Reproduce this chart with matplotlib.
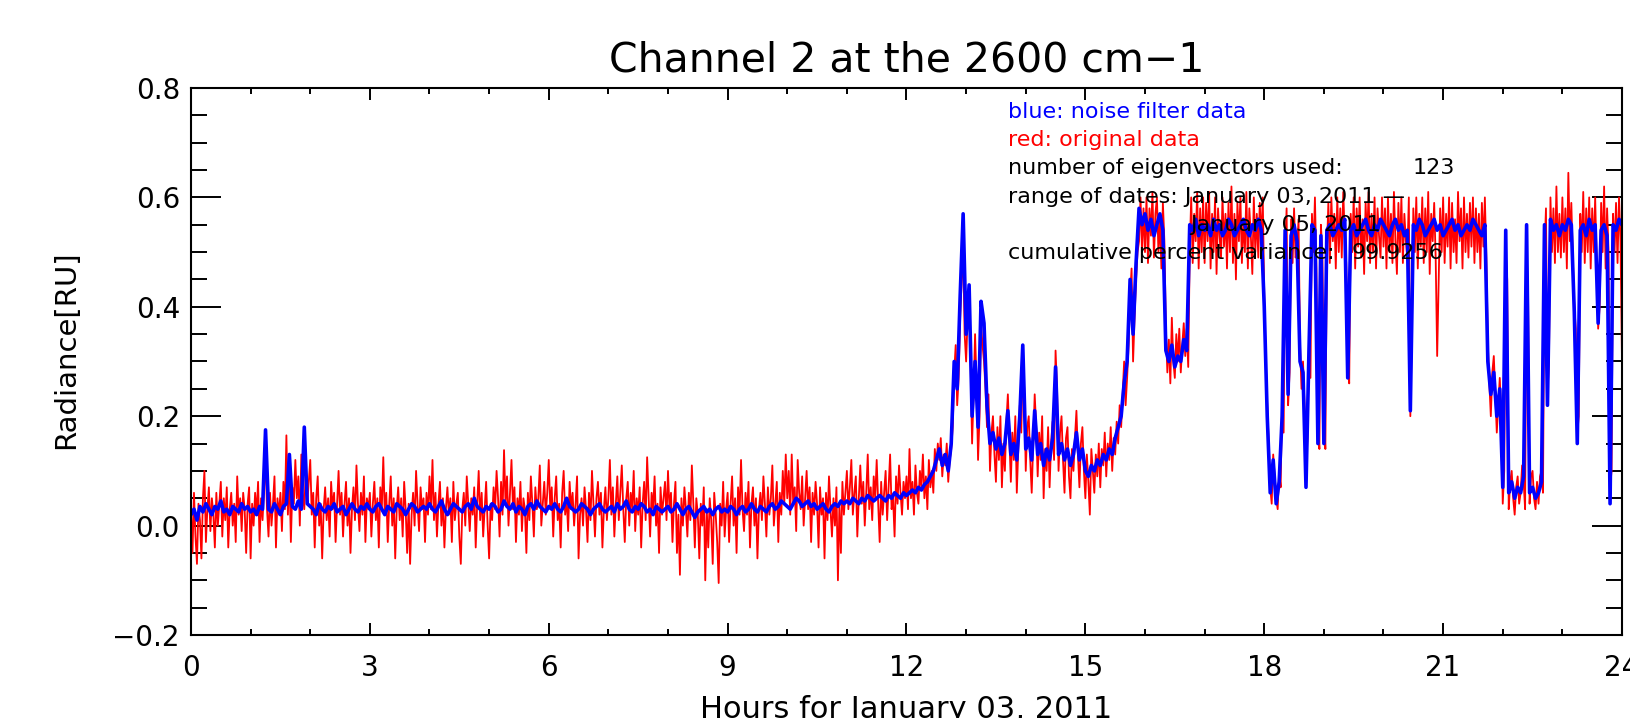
import numpy as np
import matplotlib
matplotlib.use("Agg")
import matplotlib.pyplot as plt
from matplotlib.ticker import MultipleLocator

# filtered radiance (blue), one sample every 0.05 hr, 20 per row = 1 hr
blue = [
    0.02, 0.03, 0.01, 0.035, 0.025, 0.04, 0.03, 0.02, 0.035, 0.03, 0.045, 0.025, 0.03, 0.02, 0.035, 0.03, 0.025, 0.04, 0.03, 0.035,
    0.025, 0.03, 0.02, 0.035, 0.03, 0.175, 0.03, 0.025, 0.04, 0.03, 0.02, 0.035, 0.04, 0.13, 0.035, 0.03, 0.045, 0.03, 0.18, 0.04,
    0.035, 0.03, 0.02, 0.04, 0.03, 0.025, 0.035, 0.03, 0.04, 0.025, 0.03, 0.035, 0.02, 0.03, 0.04, 0.03, 0.025, 0.035, 0.03, 0.04,
    0.03, 0.025, 0.035, 0.04, 0.03, 0.02, 0.035, 0.03, 0.025, 0.04, 0.035, 0.03, 0.02, 0.03, 0.04, 0.035, 0.025, 0.03, 0.035, 0.03,
    0.04, 0.03, 0.025, 0.035, 0.045, 0.03, 0.02, 0.03, 0.04, 0.035, 0.03, 0.025, 0.035, 0.04, 0.03, 0.05, 0.035, 0.03, 0.025, 0.035,
    0.03, 0.04, 0.035, 0.025, 0.03, 0.045, 0.035, 0.03, 0.04, 0.025, 0.035, 0.03, 0.02, 0.035, 0.04, 0.03, 0.045, 0.035, 0.03, 0.025,
    0.035, 0.03, 0.04, 0.03, 0.025, 0.035, 0.05, 0.035, 0.03, 0.025, 0.03, 0.04, 0.035, 0.03, 0.02, 0.03, 0.035, 0.04, 0.03, 0.025,
    0.03, 0.035, 0.025, 0.04, 0.03, 0.035, 0.045, 0.03, 0.025, 0.035, 0.03, 0.04, 0.035, 0.025, 0.03, 0.02, 0.035, 0.03, 0.025, 0.03,
    0.035, 0.025, 0.03, 0.04, 0.03, 0.02, 0.03, 0.035, 0.025, 0.015, 0.025, 0.03, 0.035, 0.025, 0.03, 0.02, 0.03, 0.035, 0.025, 0.03,
    0.025, 0.035, 0.03, 0.02, 0.03, 0.035, 0.025, 0.03, 0.04, 0.03, 0.025, 0.035, 0.03, 0.025, 0.035, 0.04, 0.03, 0.035, 0.045, 0.04,
    0.035, 0.03, 0.04, 0.05, 0.045, 0.035, 0.04, 0.045, 0.035, 0.04, 0.03, 0.035, 0.04, 0.03, 0.025, 0.035, 0.04, 0.035, 0.045, 0.04,
    0.045, 0.04, 0.05, 0.045, 0.04, 0.05, 0.045, 0.055, 0.05, 0.045, 0.05, 0.055, 0.05, 0.045, 0.055, 0.05, 0.06, 0.055, 0.05, 0.06,
    0.055, 0.06, 0.065, 0.06, 0.07, 0.065, 0.075, 0.08, 0.09, 0.1, 0.12, 0.14, 0.11, 0.13, 0.1, 0.15, 0.3, 0.25, 0.42, 0.57,
    0.35, 0.44, 0.2, 0.3, 0.18, 0.41, 0.37, 0.22, 0.15, 0.17, 0.14, 0.16, 0.13, 0.15, 0.21, 0.13, 0.15, 0.12, 0.2, 0.33,
    0.14, 0.16, 0.12, 0.21, 0.13, 0.15, 0.11, 0.14, 0.12, 0.16, 0.29, 0.13, 0.15, 0.12, 0.14, 0.11, 0.13, 0.17, 0.12, 0.14,
    0.1, 0.09, 0.11, 0.1, 0.12, 0.11, 0.13, 0.12, 0.14, 0.13, 0.16, 0.18, 0.2, 0.26, 0.3, 0.45, 0.35, 0.48, 0.58, 0.55,
    0.57, 0.54, 0.56, 0.53, 0.55, 0.57, 0.54, 0.32, 0.3, 0.33, 0.29, 0.31, 0.3, 0.34, 0.32, 0.55, 0.54, 0.56, 0.53, 0.55,
    0.54, 0.55, 0.53, 0.56, 0.54, 0.55, 0.53, 0.54, 0.56, 0.55, 0.53, 0.54, 0.55, 0.56, 0.54, 0.53, 0.55, 0.54, 0.56, 0.54,
    0.4, 0.2, 0.06, 0.12, 0.04, 0.08, 0.2, 0.54, 0.24, 0.53, 0.55, 0.52, 0.3, 0.28, 0.07, 0.32, 0.55, 0.54, 0.15, 0.53,
    0.15, 0.54, 0.55, 0.53, 0.54, 0.55, 0.54, 0.56, 0.27, 0.54, 0.55, 0.53, 0.54, 0.55, 0.56, 0.54, 0.53, 0.55, 0.54, 0.56,
    0.55, 0.54, 0.53, 0.55, 0.56, 0.54, 0.55, 0.53, 0.54, 0.21, 0.55, 0.54, 0.56, 0.55, 0.53, 0.54, 0.55, 0.56, 0.54, 0.55,
    0.53, 0.54, 0.55, 0.56, 0.54, 0.55, 0.53, 0.54, 0.55, 0.54, 0.56, 0.55, 0.54, 0.53, 0.55, 0.3, 0.24, 0.28, 0.2, 0.25,
    0.07, 0.54, 0.06, 0.08, 0.05, 0.07, 0.06, 0.09, 0.55, 0.06, 0.07, 0.05, 0.06, 0.08, 0.55, 0.22, 0.56, 0.54, 0.55, 0.53,
    0.55, 0.54, 0.56, 0.55, 0.39, 0.15, 0.54, 0.55, 0.53, 0.56, 0.54, 0.55, 0.37, 0.54, 0.55, 0.53, 0.04, 0.55, 0.54, 0.56,
    0.55,
]

# original radiance (red), one sample every 0.025 hr, 20 per row = half an hour
red = [
    0.03, -0.05, 0.06, -0.02, -0.07, 0.04, 0.01, -0.06, 0.05, 0.1, -0.03, 0.03, 0.07, -0.01, 0.05, 0.02, -0.04, 0.06, 0.0, 0.04,
    0.08, -0.02, 0.05, 0.01, 0.07, -0.04, 0.03, 0.06, 0.0, 0.04, -0.03, 0.09, 0.02, 0.05, -0.01, 0.06, 0.03, -0.05, 0.04, 0.07,
    -0.06, 0.04, 0.0, 0.06, 0.02, 0.08, -0.03, 0.05, 0.01, 0.07, 0.12, 0.03, -0.02, 0.06, 0.0, 0.04, 0.09, -0.04, 0.05, 0.02,
    0.06, -0.01, 0.08, 0.03, 0.165, 0.02, 0.1, -0.03, 0.07, 0.04, 0.12, 0.05, 0.09, 0.0, 0.13, 0.06, 0.03, 0.1, 0.04, 0.08,
    0.12, 0.02, 0.06, -0.04, 0.05, 0.09, 0.0, 0.04, -0.06, 0.03, 0.07, 0.01, 0.05, -0.02, 0.08, 0.03, 0.06, -0.03, 0.04, 0.1,
    0.02, 0.06, -0.02, 0.04, 0.08, 0.0, 0.05, -0.05, 0.03, 0.07, 0.01, 0.11, 0.04, -0.01, 0.06, 0.02, 0.09, -0.03, 0.05, 0.03,
    0.06, -0.02, 0.04, 0.08, 0.01, 0.05, -0.04, 0.07, 0.03, 0.125, 0.02, 0.06, -0.03, 0.04, 0.09, 0.0, 0.05, -0.06, 0.03, 0.07,
    0.01, 0.05, -0.02, 0.08, 0.03, -0.05, 0.04, -0.07, 0.02, 0.06, 0.0, 0.1, 0.04, -0.01, 0.07, 0.03, 0.05, -0.03, 0.06, 0.02,
    0.09, 0.03, 0.12, 0.01, 0.06, -0.02, 0.04, 0.08, 0.0, 0.05, -0.04, 0.03, 0.07, 0.02, 0.05, -0.03, 0.08, 0.01, 0.04, 0.06,
    -0.02, -0.07, 0.03, 0.06, 0.0, 0.09, 0.04, -0.01, 0.05, 0.02, 0.07, -0.04, 0.04, 0.1, 0.01, 0.06, -0.02, 0.03, 0.08, 0.0,
    -0.06, 0.04, 0.01, 0.07, 0.03, 0.1, 0.05, -0.02, 0.08, 0.02, 0.138, 0.04, 0.09, 0.0, 0.06, 0.12, 0.03, 0.07, -0.03, 0.05,
    0.02, 0.08, -0.01, 0.05, 0.03, -0.05, 0.06, 0.01, 0.09, 0.04, -0.02, 0.07, 0.03, 0.05, 0.11, 0.0, 0.04, 0.08, 0.02, 0.06,
    0.12, 0.03, 0.07, -0.02, 0.05, 0.09, 0.01, 0.04, -0.04, 0.06, 0.1, 0.02, 0.05, -0.01, 0.08, 0.03, 0.06, 0.0, 0.04, 0.09,
    -0.06, 0.02, 0.05, 0.0, 0.07, 0.03, -0.03, 0.06, 0.01, 0.1, 0.04, -0.02, 0.05, 0.08, 0.02, 0.06, -0.04, 0.03, 0.07, 0.01,
    0.05, 0.12, 0.02, 0.07, -0.02, 0.04, 0.09, 0.01, 0.06, 0.11, 0.03, -0.03, 0.05, 0.08, 0.0, 0.06, 0.03, 0.1, -0.01, 0.05,
    0.02, 0.07, -0.04, 0.04, 0.08, 0.01, 0.125, 0.05, -0.02, 0.06, 0.03, 0.09, 0.0, 0.04, -0.05, 0.07, 0.02, 0.05, 0.08, 0.01,
    0.1, 0.03, 0.06, -0.03, 0.04, 0.08, -0.05, 0.02, -0.09, 0.05, 0.0, 0.07, 0.03, -0.02, 0.06, 0.01, 0.11, 0.04, -0.04, 0.05,
    0.02, -0.06, 0.04, 0.0, 0.07, -0.1, 0.03, -0.04, 0.05, 0.01, -0.07, 0.06, 0.02, -0.03, -0.105, 0.04, 0.0, 0.08, -0.02, 0.03,
    0.06, -0.03, 0.04, 0.09, 0.0, 0.05, -0.05, 0.07, 0.02, 0.12, 0.03, -0.01, 0.06, 0.02, 0.08, -0.04, 0.04, 0.07, 0.0, 0.05,
    -0.06, 0.03, 0.06, 0.01, 0.09, 0.04, -0.02, 0.07, 0.02, 0.05, 0.11, 0.0, 0.04, 0.08, -0.03, 0.06, 0.02, 0.1, 0.04, 0.13,
    0.05, 0.1, 0.02, 0.13, 0.04, 0.07, -0.01, 0.12, 0.06, 0.03, 0.09, 0.0, 0.05, 0.1, 0.03, 0.07, -0.03, 0.06, 0.02, 0.08,
    0.04, -0.04, 0.07, 0.02, 0.05, -0.06, 0.06, 0.01, 0.09, 0.03, -0.02, 0.05, 0.0, 0.07, -0.1, 0.04, -0.05, 0.08, 0.02, 0.06,
    0.1, 0.03, 0.07, 0.12, 0.02, 0.06, 0.09, -0.02, 0.05, 0.11, 0.04, 0.08, 0.0, 0.06, 0.13, 0.03, 0.07, 0.01, 0.09, 0.05,
    0.12, 0.04, -0.03, 0.08, 0.02, 0.06, 0.1, 0.01, 0.07, 0.13, 0.03, 0.05, -0.02, 0.09, 0.04, 0.11, 0.06, 0.02, 0.08, 0.05,
    0.09, 0.03, 0.14, 0.05, 0.08, 0.02, 0.11, 0.06, 0.04, 0.1, 0.07, 0.13, 0.05, 0.09, 0.03, 0.12, 0.07, 0.1, 0.06, 0.14,
    0.1, 0.15, 0.12, 0.16, 0.09, 0.13, 0.11, 0.15, 0.08, 0.12, 0.14, 0.18, 0.28, 0.33, 0.22, 0.27, 0.38, 0.45, 0.5, 0.35,
    0.3, 0.38, 0.42, 0.3, 0.15, 0.24, 0.35, 0.26, 0.12, 0.2, 0.37, 0.33, 0.3, 0.25, 0.18, 0.24, 0.1, 0.17, 0.2, 0.13,
    0.08, 0.18, 0.12, 0.2, 0.07, 0.15, 0.1, 0.19, 0.24, 0.16, 0.08, 0.17, 0.12, 0.2, 0.06, 0.14, 0.22, 0.17, 0.3, 0.25,
    0.1, 0.18, 0.2, 0.12, 0.06, 0.15, 0.24, 0.18, 0.09, 0.17, 0.12, 0.2, 0.05, 0.14, 0.1, 0.18, 0.07, 0.15, 0.19, 0.12,
    0.32, 0.25, 0.1, 0.17, 0.2, 0.12, 0.06, 0.16, 0.18, 0.09, 0.05, 0.14, 0.1, 0.16, 0.21, 0.13, 0.07, 0.15, 0.18, 0.1,
    0.05, 0.13, 0.08, 0.02, 0.14, 0.1, 0.06, 0.13, 0.09, 0.15, 0.07, 0.14, 0.11, 0.17, 0.09, 0.15, 0.12, 0.18, 0.1, 0.16,
    0.13, 0.19, 0.15, 0.22, 0.18, 0.24, 0.3, 0.22, 0.27, 0.33, 0.42, 0.47, 0.3, 0.38, 0.45, 0.5, 0.52, 0.6, 0.5, 0.58,
    0.5, 0.6, 0.48, 0.58, 0.53, 0.61, 0.49, 0.57, 0.6, 0.5, 0.56, 0.47, 0.59, 0.52, 0.36, 0.28, 0.34, 0.26, 0.38, 0.3,
    0.27, 0.35, 0.3, 0.36, 0.28, 0.33, 0.37, 0.31, 0.36, 0.29, 0.5, 0.6, 0.48, 0.57, 0.52, 0.61, 0.47, 0.58, 0.5, 0.6,
    0.48, 0.59, 0.52, 0.61, 0.47, 0.57, 0.5, 0.6, 0.46, 0.58, 0.53, 0.49, 0.6, 0.51, 0.57, 0.47, 0.59, 0.5, 0.62, 0.48,
    0.57, 0.45, 0.59, 0.52, 0.6, 0.48, 0.56, 0.5, 0.61, 0.47, 0.58, 0.53, 0.46, 0.6, 0.5, 0.57, 0.49, 0.59, 0.52, 0.6,
    0.42, 0.3, 0.22, 0.15, 0.07, 0.04, 0.13, 0.09, 0.05, 0.03, 0.1, 0.07, 0.24, 0.17, 0.5, 0.58, 0.22, 0.28, 0.56, 0.48,
    0.58, 0.49, 0.5, 0.56, 0.33, 0.25, 0.3, 0.22, 0.1, 0.16, 0.34, 0.27, 0.57, 0.5, 0.6, 0.47, 0.18, 0.14, 0.55, 0.5,
    0.2, 0.14, 0.5, 0.59, 0.48, 0.6, 0.52, 0.57, 0.47, 0.6, 0.5, 0.58, 0.49, 0.61, 0.53, 0.48, 0.3, 0.26, 0.57, 0.5,
    0.6, 0.47, 0.58, 0.51, 0.6, 0.49, 0.56, 0.46, 0.59, 0.52, 0.61, 0.48, 0.57, 0.5, 0.6, 0.47, 0.58, 0.53, 0.49, 0.6,
    0.51, 0.58, 0.47, 0.6, 0.5, 0.57, 0.48, 0.61, 0.52, 0.46, 0.59, 0.5, 0.6, 0.48, 0.57, 0.52, 0.49, 0.6, 0.2, 0.35,
    0.58, 0.5, 0.6, 0.47, 0.57, 0.51, 0.6, 0.48, 0.58, 0.5, 0.61, 0.46, 0.57, 0.52, 0.59, 0.49, 0.31, 0.45, 0.58, 0.5,
    0.6, 0.48, 0.57, 0.51, 0.6, 0.47, 0.59, 0.5, 0.56, 0.48, 0.61, 0.52, 0.58, 0.47, 0.6, 0.5, 0.57, 0.49, 0.59, 0.51,
    0.6, 0.48, 0.58, 0.5, 0.57, 0.47, 0.59, 0.51, 0.6, 0.49, 0.33, 0.26, 0.2, 0.28, 0.31, 0.24, 0.17, 0.22, 0.27, 0.2,
    0.04, 0.1, 0.5, 0.45, 0.03, 0.08, 0.1, 0.05, 0.02, 0.07, 0.09, 0.04, 0.06, 0.11, 0.08, 0.03, 0.5, 0.42, 0.04, 0.09,
    0.1, 0.05, 0.03, 0.08, 0.04, 0.09, 0.1, 0.06, 0.5, 0.58, 0.24, 0.3, 0.6, 0.5, 0.58, 0.48, 0.62, 0.5, 0.57, 0.49,
    0.6, 0.5, 0.58, 0.47, 0.645, 0.52, 0.59, 0.49, 0.4, 0.36, 0.17, 0.2, 0.57, 0.5, 0.61, 0.48, 0.58, 0.5, 0.6, 0.47,
    0.58, 0.5, 0.6, 0.48, 0.36, 0.4, 0.59, 0.5, 0.62, 0.47, 0.58, 0.5, 0.07, 0.1, 0.57, 0.5, 0.59, 0.48, 0.6, 0.52,
    0.3,
]

blue_hours = np.arange(len(blue)) * 0.05
red_hours = np.arange(len(red)) * 0.025

title = "Channel 2 at the 2600 cm\u22121"
xlab = "Hours for January 03, 2011"
ylab = "Radiance[RU]"
n_eig = 123
cum_var = 99.9256

W, H = 1631, 718
fig = plt.figure(figsize=(W / 100, H / 100), dpi=100)
ax = fig.add_axes([191 / W, 1 - 635 / H, (1622 - 191) / W, (635 - 88) / H])

ax.plot(red_hours, red, color="#ff0000", lw=1.3)
ax.plot(blue_hours, blue, color="#0000ff", lw=2.6)

ax.set_xlim(0, 24)
ax.set_ylim(-0.2, 0.8)
ax.xaxis.set_major_locator(MultipleLocator(3))
ax.xaxis.set_minor_locator(MultipleLocator(1))
ax.yaxis.set_major_locator(MultipleLocator(0.2))
ax.yaxis.set_minor_locator(MultipleLocator(0.05))
ax.yaxis.set_major_formatter(plt.FuncFormatter(lambda v, p: f"{v:.1f}".replace("-", "\u2212")))

for s in ax.spines.values():
    s.set_linewidth(1.5)
ax.tick_params(axis="both", which="both", direction="in", top=True, right=True, width=1.4, labelsize=20)
ax.tick_params(axis="x", which="major", length=8.6, pad=14)
ax.tick_params(axis="x", which="minor", length=4.3)
ax.tick_params(axis="y", which="major", length=21.5, pad=8)
ax.tick_params(axis="y", which="minor", length=11.5)

ax.set_title(title, fontsize=29.5, pad=12)
fig.text(906 / W, 1 - 718 / H, xlab, fontsize=22, ha="center", va="baseline")
fig.text(66 / W, 1 - 350 / H, ylab, fontsize=21, ha="center", va="center", rotation=90)

# annotation block
fs = 16
def put(x, y, s, c="black"):
    fig.text(x / W, 1 - y / H, s, fontsize=fs, color=c, ha="left", va="center", zorder=10)

put(1008, 112, "blue: noise filter data", "#0000ff")
put(1008, 140, "red: original data", "#ff0000")
put(1008, 168, "number of eigenvectors used:")
put(1413, 168, str(n_eig))
put(1008, 197, "range of dates: January 03, 2011 \u2014")
put(1190, 225, "January 05, 2011")
put(1008, 253, "cumulative percent variance:")
put(1352, 253, f"{cum_var:.4f}")

fig.savefig("out.png", dpi=100)
